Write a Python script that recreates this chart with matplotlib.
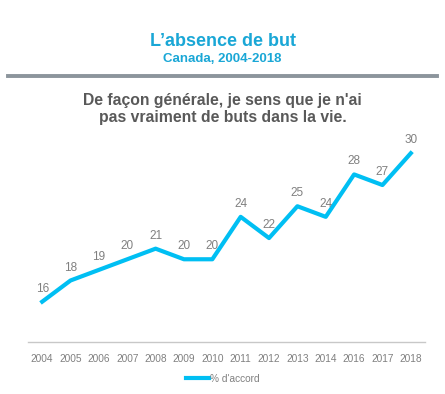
import matplotlib.pyplot as plt

plt.rcParams['font.family'] = ['Liberation Sans', 'DejaVu Sans']

# Données
annees = ['2004', '2005', '2006', '2007', '2008', '2009', '2010', '2011',
          '2012', '2013', '2014', '2016', '2017', '2018']
accord = [16, 18, 19, 20, 21, 20, 20, 24, 22, 25, 24, 28, 27, 30]

bleu = '#00bff3'
gris = '#808080'

fig = plt.figure(figsize=(4.45, 3.94), dpi=100)

# Titres
fig.text(0.5, 1 - 42 / 394, "L\u2019absence de but", ha='center', va='center',
         fontsize=13, fontweight='bold', color='#1aa7d6')
fig.text(0.5, 1 - 59 / 394, "Canada, 2004-2018", ha='center', va='center',
         fontsize=9.5, fontweight='bold', color='#1aa7d6')
fig.add_artist(plt.Line2D([8 / 445, 437 / 445], [1 - 76 / 394, 1 - 76 / 394],
                          color='#8c959c', linewidth=2.8))
fig.text(0.5, 1 - 109 / 394,
         "De façon générale, je sens que je n'ai\npas vraiment de buts dans la vie.",
         ha='center', va='center', fontsize=11.3, fontweight='bold',
         color='#595959', linespacing=1.15)

# Graphique
ax = fig.add_axes([28 / 445, 1 - 342 / 394, 397 / 445, 210 / 394])
x = range(len(annees))
ax.plot(x, accord, color=bleu, linewidth=3, label='% d\'accord')
for i, v in zip(x, accord):
    ax.annotate(str(v), (i, v), xytext=(0, 5), textcoords='offset points',
                ha='center', va='bottom', fontsize=8.5, color=gris)

ax.set_xlim(-0.5, len(annees) - 0.5)
ax.set_ylim(12.2, 32)
ax.set_xticks(list(x))
ax.set_xticklabels(annees, fontsize=7.3, color=gris)
ax.set_yticks([])
ax.tick_params(axis='x', length=0, pad=9)
for s in ['top', 'right', 'left']:
    ax.spines[s].set_visible(False)
ax.spines['bottom'].set_color('#c8c8c8')
ax.spines['bottom'].set_linewidth(1)

fig.legend(loc='center', bbox_to_anchor=(0.5, 1 - 379 / 394), frameon=False,
           fontsize=7.3, handlelength=2.3, handletextpad=0.1, labelcolor=gris)

fig.savefig('out.png', dpi=100)
